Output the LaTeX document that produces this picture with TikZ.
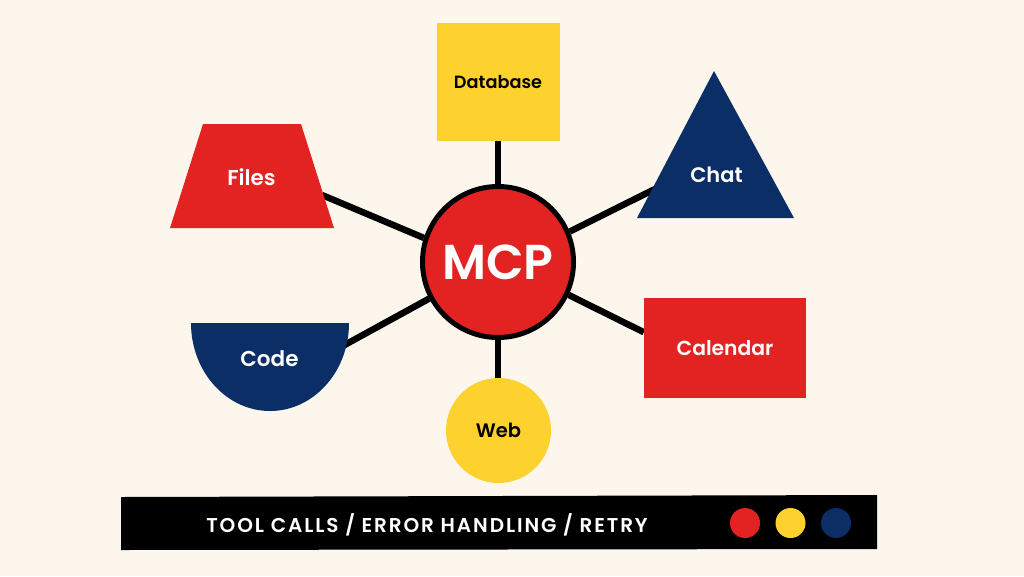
\documentclass[tikz,border=0pt]{standalone}
\usepackage{fontspec}
\setmainfont{Poppins}
\newfontfamily\labelfont{Poppins SemiBold}
\newfontfamily\barfont[LetterSpace=9.5]{Poppins SemiBold}
\usetikzlibrary{backgrounds}
\definecolor{paper}{HTML}{FCF6EC}
\definecolor{mcpred}{HTML}{E32322}
\definecolor{mcpyellow}{HTML}{FDD22E}
\definecolor{mcpnavy}{HTML}{0B2E66}
\tikzset{
  label text/.style={font=\labelfont\fontsize{#1}{#1}\selectfont, inner sep=0pt},
  link/.style={line width=6.5pt},
  dot/.style={circle, minimum size=30pt, inner sep=0pt}
}
\begin{document}
\begin{tikzpicture}[x=1pt, y=-1pt]
  \useasboundingbox (0, 0) rectangle (1024, 576);
  % shapes
  \node [circle, draw=black, line width=5pt, fill=mcpred, text=white, minimum size=151pt, label text=49] (hub) at (498, 262) {MCP};
  \node [fill=mcpyellow, minimum width=123pt, minimum height=118pt, label text=17.7] (database) at (498, 82) {Database};
  \node [fill=mcpred, text=white, minimum width=162pt, minimum height=100pt, label text=20.3] (calendar) at (725, 348) {Calendar};
  \node [circle, fill=mcpyellow, minimum size=105pt, label text=19.5] (web) at (498.5, 430.5) {Web};
  \fill [mcpred] (203, 124) -- (301, 124) -- (334, 228) -- (170, 228) -- cycle;
  \fill [mcpnavy] (714, 71) -- (794, 218) -- (637, 218) -- cycle;
  \fill [mcpnavy] (191, 323) -- (349, 323) arc [start angle=0, end angle=-180, x radius=79pt, y radius=88pt] -- cycle;
  \node [text=white, label text=21.5] (files) at (251.5, 177) {Files};
  \node [text=white, label text=21] (chat) at (716.5, 174.5) {Chat};
  \node [text=white, label text=21.5] (code) at (269.5, 358.5) {Code};
  \coordinate (files end) at (322, 195);
  \coordinate (chat end) at (655, 189);
  \coordinate (code end) at (340, 347.5);
  % connectors
  \begin{scope}[on background layer]
    \fill [paper] (0, 0) rectangle (1024, 576);
    \draw [link] (hub) -- (database);
    \draw [link] (hub) -- (hub |- web);
    \draw [link] (hub.162) -- (files end);
    \draw [link] (hub.23) -- (chat end);
    \draw [link] (hub.208) -- (code end);
    \draw [link] (hub.-25) -- (calendar.169);
  \end{scope}
  % bottom bar
  \fill [black] (121, 497) -- (877, 495) -- (877, 549) -- (121, 550) -- cycle;
  \node [text=white, font=\barfont\fontsize{20}{20}\selectfont, inner sep=0pt] (tools) at (427, 524.5) {TOOL CALLS / ERROR HANDLING / RETRY};
  \node [dot, fill=mcpred] (red dot) at (745, 523) {};
  \node [dot, fill=mcpyellow] (yellow dot) at (790.5, 523) {};
  \node [dot, fill=mcpnavy] (navy dot) at (836, 523) {};
\end{tikzpicture}
\end{document}
